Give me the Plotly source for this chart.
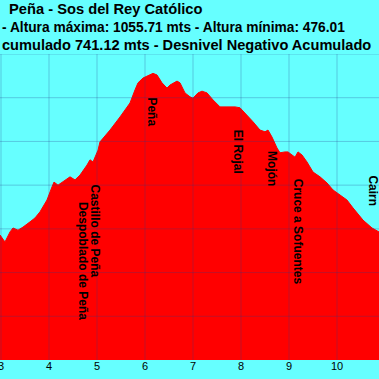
import plotly.graph_objects as go

# Profile data (km, elevation m)
dist_km = [2.979, 3.083, 3.188, 3.25, 3.354, 3.458, 3.604, 3.708, 3.8125, 3.958,
           4.0625, 4.104, 4.1875, 4.271, 4.4375, 4.542, 4.646, 4.792, 4.854, 4.917,
           5.021, 5.0625, 5.271, 5.479, 5.6875, 5.792, 5.854, 5.958, 6.104, 6.167,
           6.25, 6.354, 6.458, 6.521, 6.667, 6.729, 6.833, 6.9375, 7.0, 7.104,
           7.1875, 7.292, 7.417, 7.5625, 7.708, 7.875, 7.979, 8.125, 8.25, 8.396,
           8.5, 8.5625, 8.646, 8.75, 8.8125, 8.917, 8.979, 9.0625, 9.125, 9.1875,
           9.271, 9.375, 9.5, 9.646, 9.792, 9.917, 10.0625, 10.125, 10.208, 10.333,
           10.542, 10.729, 10.875]
elev_m = [686, 670, 693, 702, 697, 704, 716, 725, 739, 766,
          796, 807, 800, 807, 819, 812, 823, 846, 858, 853,
          880, 899, 926, 956, 988, 1018, 1034, 1045, 1052, 1055.71,
          1052, 1034, 1022, 1029, 1038, 1034, 1011, 1002, 999, 1011,
          1015, 1011, 995, 979, 979, 979, 977, 961, 945, 926,
          922, 926, 910, 885, 874, 876, 876, 869, 864, 876,
          869, 853, 830, 819, 805, 789, 778, 773, 766, 748,
          720, 702, 693]

# Waypoints
wp_names = ["Despoblado de Peña", "Castillo de Peña", "Peña", "El Rojal",
            "Mojón", "Cruce a Sofuentes", "Cairn"]
wp_km = [4.71, 4.96, 6.15, 7.94, 8.63, 9.19, 10.75]
wp_top = [766, 807, 1006, 931, 883, 819, 828]

x_ticks = [3, 4, 5, 6, 7, 8, 9, 10]
y_grid = [500, 600, 700, 800, 900, 1000, 1100]

title_lines = [
    "Peña - Sos del Rey Católico",
    "- Altura máxima: 1055.71 mts - Altura mínima: 476.01",
    "cumulado 741.12 mts - Desnivel Negativo Acumulado",
]
title_x_px = [7, 0, 0]
title_y_px = [9, 27, 45]
title_size = [14.7, 13.75, 14.6]

W, H = 379, 379
M_T, M_B = 54, 19
plot_h = H - M_T - M_B

fig = go.Figure()
fig.add_trace(go.Scatter(
    x=dist_km, y=elev_m, mode="lines", fill="tozeroy",
    line=dict(color="#FF0000", width=1), fillcolor="#FF0000",
    hoverinfo="skip", showlegend=False,
))

grid_col = "rgba(40,60,140,0.28)"
shapes = []
for xv in x_ticks:
    shapes.append(dict(type="line", xref="x", yref="paper", x0=xv, x1=xv, y0=0, y1=1,
                       line=dict(color=grid_col, width=1), layer="above"))
for yv in y_grid:
    shapes.append(dict(type="line", xref="paper", yref="y", x0=0, x1=1, y0=yv, y1=yv,
                       line=dict(color=grid_col, width=1), layer="above"))

annotations = []
for name, k, t in zip(wp_names, wp_km, wp_top):
    annotations.append(dict(
        x=k, y=t, xref="x", yref="y", text="<b>" + name + "</b>", textangle=90,
        showarrow=False, xanchor="center", yanchor="top",
        font=dict(family="Liberation Sans, Arial", size=12, color="#000000"),
    ))
for txt, xp, yp, fs in zip(title_lines, title_x_px, title_y_px, title_size):
    annotations.append(dict(
        x=xp / W, y=1 + (M_T - yp) / plot_h, xref="paper", yref="paper",
        text="<b>" + txt + "</b>", showarrow=False, xanchor="left", yanchor="middle",
        font=dict(family="Liberation Sans, Arial", size=fs, color="#000000"),
    ))

fig.update_layout(
    width=W, height=H,
    margin=dict(l=0, r=0, t=M_T, b=M_B, pad=0),
    paper_bgcolor="#66FFFF", plot_bgcolor="#66FFFF",
    shapes=shapes, annotations=annotations,
    xaxis=dict(range=[2.979, 10.875], tickvals=x_ticks, showgrid=False, zeroline=False,
               ticks="", tickfont=dict(family="Liberation Sans, Arial", size=11, color="#000000"),
               tickprefix="<b>", ticksuffix="</b>", showline=False,
               ticklabeloverflow="allow", automargin=False, ticklabelstandoff=-2),
    yaxis=dict(range=[400, 1100], showgrid=False, zeroline=False, showticklabels=False,
               showline=False, automargin=False),
)

fig.write_html("out.html", config={"displayModeBar": False},
               post_script="document.body.style.margin='0';")
